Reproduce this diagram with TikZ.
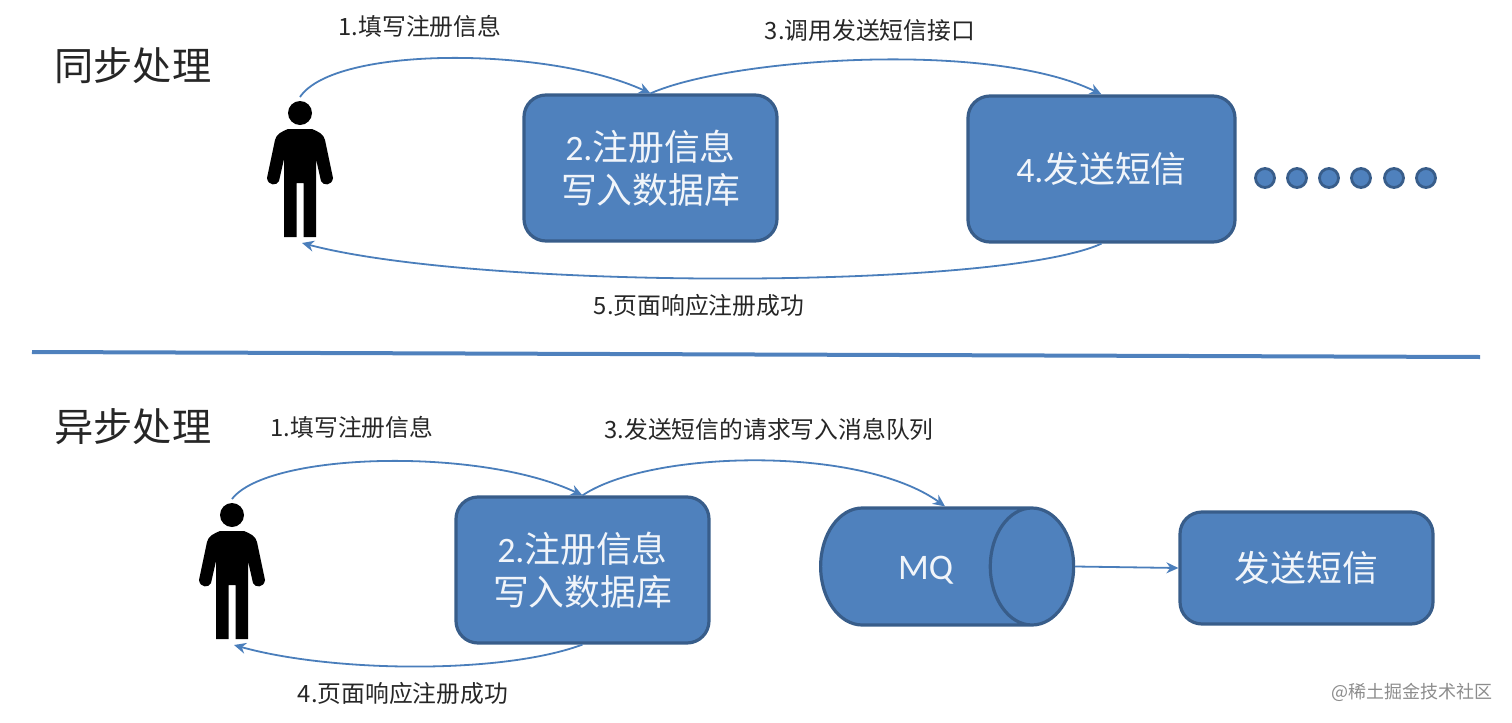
\documentclass[tikz,border=0pt]{standalone}
\usepackage{fontspec}
\setmainfont{Noto Sans CJK SC}
\newfontfamily\latfont{Carlito}
\usetikzlibrary{shapes.geometric,arrows.meta}
\definecolor{boxfill}{HTML}{4F81BD}
\definecolor{boxline}{HTML}{385D8A}
\definecolor{linkcol}{HTML}{4A7EBB}
\tikzset{
  boxnode/.style={draw=boxline, fill=boxfill, line width=1.6pt, rounded corners=11pt, text=white!92!boxfill,
    align=center, font=\fontsize{17.9}{21.5}\selectfont, inner sep=0pt},
  link/.style={draw=linkcol, line width=0.9pt, -{Stealth[length=6pt,width=5.5pt]}},
  steplabel/.style={font=\fontsize{11.9}{14}\selectfont, text=black!85},
  titlelabel/.style={font=\fontsize{19.6}{24}\selectfont, text=black!85},
  man/.pic={
    \node[circle, fill=black, inner sep=0pt, minimum size=12pt] (-head) at (0,0) {};
    \fill[black] (-16,124) -- (-16,46) -- (-21,68) .. controls (-23,73) and (-32,73) .. (-33,65)
      -- (-25,27) .. controls (-24,21) and (-17,18) .. (-12,16) -- (12,16)
      .. controls (17,18) and (24,21) .. (25,27) -- (33,65) .. controls (32,73) and (23,73) .. (21,68)
      -- (16,46) -- (16,124) -- (3.5,124) -- (3.5,70) -- (-3.5,70) -- (-3.5,124) -- cycle;
    \coordinate (-top) at (0,-16);
    \coordinate (-feet) at (2,130);
  }
}
\begin{document}
\begin{tikzpicture}[x=0.5pt,y=-0.5pt]
  \useasboundingbox (0,0) rectangle (1512,723);
  % upper half
  \node[titlelabel] (T1) at (133,66) {同步处理};
  \pic (P1) at (300,113) {man};
  \node[boxnode, minimum width=126.5pt, minimum height=73pt] (A) at (650.5,168) {{\latfont 2.}注册信息\\写入数据库};
  \node[boxnode, minimum width=133.5pt, minimum height=73pt] (B) at (1101.5,169) {{\latfont 4.}发送短信};
  \foreach \x [count=\i] in {1265,1297,1329,1361,1394,1426}
    \node[circle, draw=boxline, fill=boxfill, line width=1.4pt, inner sep=0pt, minimum size=9.5pt] (dot\i) at (\x,178) {};
  \node[steplabel] (L1) at (420,26) {1.填写注册信息};
  \node[steplabel] (L3) at (870,30) {3.调用发送短信接口};
  \node[steplabel] (L5) at (699,305) {5.页面响应注册成功};
  \draw[link] (P1-top) .. controls (335,45) and (550,47) .. (A.north);
  \draw[link] (A.north) .. controls (730,58) and (990,40) .. (B.north);
  \draw[link] (B.south) .. controls (1000,290) and (480,290) .. (P1-feet);
  % divider
  \coordinate (R1) at (32,352);
  \coordinate (R2) at (1480,357);
  \draw[draw=boxfill, line width=2pt] (R1) -- (R2);
  % lower half
  \node[titlelabel] (T2) at (133,427) {异步处理};
  \pic (P2) at (232,515) {man};
  \node[boxnode, minimum width=126.5pt, minimum height=73pt] (C) at (582.5,570) {{\latfont 2.}注册信息\\写入数据库};
  \node[cylinder, draw=boxline, fill=boxfill, line width=1.6pt, shape aspect=2.33, minimum height=126.5pt, minimum width=58.5pt,
    inner sep=0pt, text height=15.5pt, text=white!92!boxfill, font=\latfont\fontsize{18}{22}\selectfont] (MQ) at (925.5,566.5) {MQ};
  \node[boxnode, minimum width=126.5pt, minimum height=56pt] (D) at (1306.5,568) {发送短信};
  \node[steplabel] (L6) at (352,427) {1.填写注册信息};
  \node[steplabel] (L7) at (769,429) {3.发送短信的请求写入消息队列};
  \node[steplabel] (L8) at (403,693) {4.页面响应注册成功};
  \draw[link] (P2-top) .. controls (268,452) and (480,447) .. (C.north);
  \draw[link] (C.north) .. controls (650,450) and (860,445) .. (MQ.72);
  \draw[link] (C.south) .. controls (500,675) and (330,672) .. (P2-feet);
  \draw[link] (MQ.east) -- (D.west);
  \node[text=black!45, font=\fontsize{9}{11}\selectfont] (W) at (1412,692) {@稀土掘金技术社区};
\end{tikzpicture}
\end{document}
